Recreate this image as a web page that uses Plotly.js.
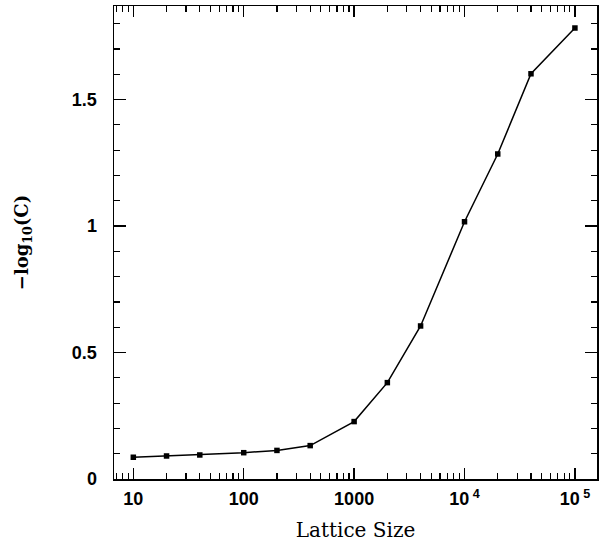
<!DOCTYPE html>
<html>
<head>
<meta charset="utf-8">
<script src="https://cdn.plot.ly/plotly-3.0.1.min.js"></script>
<style>html,body{margin:0;padding:0;background:#fff;}#plot{width:604px;height:546px;}</style>
</head>
<body>
<div id="plot"></div>
<script>
var latticeSize = [10, 20, 40, 100, 200, 400, 1000, 2000, 4000, 10000, 20000, 40000, 100000];
var negLogC = [0.086, 0.091, 0.095, 0.104, 0.113, 0.132, 0.227, 0.381, 0.605, 1.017, 1.285, 1.602, 1.783];
var xTickVals = [10, 100, 1000, 10000, 100000];
var xTickText = ['10', '100', '1000', '10<sup> 4</sup>', '10<sup> 5</sup>'];

var trace = {
  x: latticeSize,
  y: negLogC,
  mode: 'lines+markers',
  type: 'scatter',
  line: {color: '#000', width: 1.5},
  marker: {color: '#000', size: 5.5, symbol: 'square'},
  hoverinfo: 'none'
};

var layout = {
  width: 604, height: 546,
  margin: {l: 114, r: 7, t: 6, b: 67},
  paper_bgcolor: '#fff', plot_bgcolor: '#fff',
  showlegend: false,
  font: {family: 'Liberation Sans', color: '#000'},
  xaxis: {
    type: 'log',
    range: [0.825, 5.2],
    tickvals: xTickVals,
    ticktext: xTickText,
    ticks: 'inside', ticklen: 11, tickwidth: 1.3, tickcolor: '#000',
    minor: {ticks: 'inside', ticklen: 6, tickwidth: 1.2, tickcolor: '#000', dtick: 'D1'},
    showline: true, linewidth: 1.5, linecolor: '#000', mirror: 'ticks',
    showgrid: false, zeroline: false,
    tickfont: {family: 'Liberation Sans', size: 18, color: '#000', weight: 'bold'},
    ticklabelstandoff: 3,
    title: {text: 'Lattice Size', font: {family: 'DejaVu Serif', size: 20, color: '#000'}, standoff: 15}
  },
  yaxis: {
    range: [0, 1.87],
    dtick: 0.5, tick0: 0,
    ticks: 'inside', ticklen: 12, tickwidth: 1.3, tickcolor: '#000',
    minor: {ticks: 'inside', ticklen: 6, tickwidth: 1.2, tickcolor: '#000', dtick: 0.1},
    showline: true, linewidth: 1.5, linecolor: '#000', mirror: 'ticks',
    showgrid: false, zeroline: false,
    tickfont: {family: 'Liberation Sans', size: 18, color: '#000', weight: 'bold'},
    ticklabelstandoff: 12,
    title: {text: '−log<sub>10</sub>(C)', font: {family: 'DejaVu Serif', size: 18, color: '#000', weight: 'bold'}, standoff: 38}
  }
};

Plotly.newPlot('plot', [trace], layout, {displayModeBar: false, staticPlot: true});
</script>
</body>
</html>
